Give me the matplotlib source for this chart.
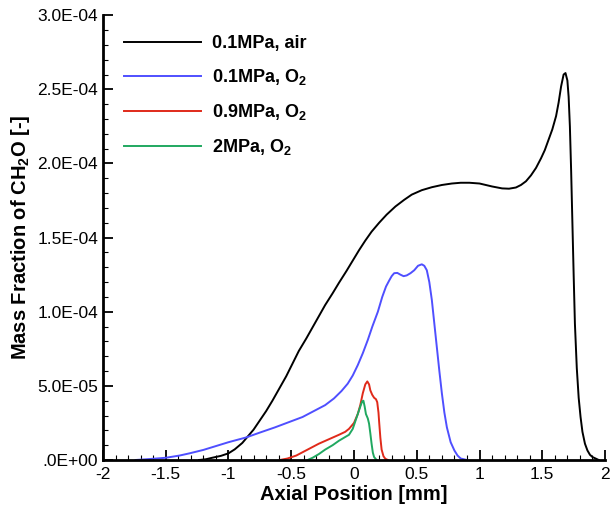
import numpy as np
import matplotlib.pyplot as plt
from matplotlib.ticker import MultipleLocator, FixedLocator

plt.rcParams['font.family'] = ['Liberation Sans', 'DejaVu Sans']
plt.rcParams['mathtext.fontset'] = 'custom'
plt.rcParams['mathtext.rm'] = 'Liberation Sans'
plt.rcParams['mathtext.bf'] = 'Liberation Sans:bold'

# valores (x en mm, y en unidades de 1e-4)
x_air = [-1.235, -1.18, -1.13, -1.06, -1.0, -0.95, -0.89, -0.85, -0.80, -0.76,
         -0.70, -0.65, -0.60, -0.54, -0.49, -0.44, -0.38, -0.33, -0.28, -0.23,
         -0.17, -0.12, -0.06, -0.01, 0.04, 0.09, 0.14, 0.20, 0.26, 0.33, 0.40,
         0.46, 0.54, 0.62, 0.70, 0.78, 0.85, 0.92, 1.00, 1.10, 1.18, 1.235, 1.29,
         1.33, 1.37, 1.41, 1.45, 1.49, 1.52, 1.55, 1.58, 1.61, 1.63, 1.65, 1.67,
         1.685, 1.70, 1.71, 1.72, 1.73, 1.74, 1.75, 1.76, 1.775, 1.79, 1.805,
         1.82, 1.84, 1.86, 1.88, 1.90, 1.95]
y_air = [0.0, 0.005, 0.015, 0.028, 0.045, 0.072, 0.115, 0.155, 0.205, 0.255,
         0.33, 0.40, 0.475, 0.565, 0.65, 0.735, 0.82, 0.895, 0.97, 1.045,
         1.125, 1.195, 1.275, 1.345, 1.415, 1.48, 1.54, 1.60, 1.655, 1.71, 1.755,
         1.79, 1.82, 1.84, 1.855, 1.865, 1.87, 1.87, 1.865, 1.845, 1.832, 1.83, 1.838,
         1.855, 1.88, 1.92, 1.97, 2.035, 2.09, 2.16, 2.23, 2.32, 2.41, 2.52, 2.60,
         2.61, 2.56, 2.45, 2.25, 1.95, 1.60, 1.25, 0.92, 0.62, 0.42, 0.29,
         0.19, 0.11, 0.064, 0.035, 0.02, 0.0]

x_o2_01 = [-1.74, -1.62, -1.50, -1.39, -1.31, -1.20, -1.10, -1.00, -0.86, -0.75,
           -0.63, -0.52, -0.41, -0.32, -0.23, -0.16, -0.10, -0.05, -0.01, 0.03,
           0.07, 0.11, 0.146, 0.19, 0.225, 0.255, 0.28, 0.30, 0.32, 0.345, 0.37,
           0.395, 0.42, 0.45, 0.48, 0.51, 0.54, 0.56, 0.58, 0.60, 0.62, 0.64,
           0.66, 0.68, 0.70, 0.72, 0.74, 0.77, 0.80, 0.825, 0.85, 0.90]
y_o2_01 = [0.0, 0.007, 0.015, 0.03, 0.045, 0.068, 0.094, 0.12, 0.152, 0.185,
           0.22, 0.255, 0.29, 0.33, 0.37, 0.415, 0.465, 0.515, 0.57, 0.64,
           0.72, 0.81, 0.90, 1.00, 1.10, 1.17, 1.21, 1.24, 1.26, 1.262, 1.25,
           1.24, 1.245, 1.26, 1.28, 1.31, 1.32, 1.31, 1.28, 1.20, 1.08, 0.92,
           0.76, 0.60, 0.45, 0.32, 0.22, 0.12, 0.064, 0.03, 0.01, 0.0]

x_o2_09 = [-0.59, -0.53, -0.46, -0.37, -0.28, -0.20, -0.12, -0.07, -0.04, 0.0,
           0.03, 0.05, 0.07, 0.09, 0.106, 0.12, 0.13, 0.145, 0.16, 0.175,
           0.185, 0.195, 0.20, 0.21, 0.22, 0.235, 0.25, 0.27]
y_o2_09 = [0.0, 0.01, 0.03, 0.07, 0.11, 0.14, 0.17, 0.19, 0.21, 0.25,
           0.31, 0.37, 0.45, 0.51, 0.53, 0.51, 0.47, 0.44, 0.42, 0.41,
           0.39, 0.32, 0.26, 0.15, 0.07, 0.025, 0.008, 0.0]

x_o2_2 = [-0.37, -0.33, -0.28, -0.23, -0.17, -0.12, -0.07, -0.04, -0.01, 0.01,
          0.03, 0.05, 0.065, 0.075, 0.085, 0.095, 0.11, 0.12, 0.13, 0.14,
          0.15, 0.16, 0.18]
y_o2_2 = [0.0, 0.015, 0.04, 0.07, 0.10, 0.13, 0.155, 0.17, 0.21, 0.26,
          0.31, 0.36, 0.395, 0.40, 0.36, 0.31, 0.28, 0.245, 0.18, 0.11,
          0.05, 0.02, 0.0]

labels = ['0.1MPa, air', r'0.1MPa, O$_\mathbf{2}$', r'0.9MPa, O$_\mathbf{2}$',
          r'2MPa, O$_\mathbf{2}$']
colors = ['black', '#4f4fff', '#e02a1a', '#20a860']

y_ticks = [0, 0.5e-4, 1.0e-4, 1.5e-4, 2.0e-4, 2.5e-4, 3.0e-4]
y_ticklabels = ['.0E+00', '5.0E-05', '1.0E-04', '1.5E-04', '2.0E-04', '2.5E-04', '3.0E-04']
x_ticks = [-2, -1.5, -1, -0.5, 0, 0.5, 1, 1.5, 2]
x_ticklabels = ['-2', '-1.5', '-1', '-0.5', '0', '0.5', '1', '1.5', '2']

fig = plt.figure(figsize=(6.13, 5.08), dpi=100)
ax = fig.add_axes([0.168, 0.0945, 0.819, 0.8755])

series = [(x_air, y_air), (x_o2_01, y_o2_01), (x_o2_09, y_o2_09), (x_o2_2, y_o2_2)]
for (xs, ys), lab, c in zip(series, labels, colors):
    ax.plot(xs, np.array(ys) * 1e-4, color=c, lw=1.4, label=lab)

ax.set_xlim(-2, 2)
ax.set_ylim(0, 3e-4)
ax.xaxis.set_major_locator(FixedLocator(x_ticks))
ax.set_xticklabels(x_ticklabels)
ax.yaxis.set_major_locator(FixedLocator(y_ticks))
ax.set_yticklabels(y_ticklabels)
ax.xaxis.set_minor_locator(MultipleLocator(0.1))
ax.yaxis.set_minor_locator(MultipleLocator(1e-5))
ax.tick_params(which='both', direction='in', labelsize=12.5, width=1.3)
ax.tick_params(which='major', length=7)
ax.tick_params(which='minor', length=3.5, width=0.8)
ax.tick_params(axis='x', pad=5)

ax.spines['top'].set_visible(False)
ax.spines['right'].set_visible(False)
ax.spines['left'].set_linewidth(2)
ax.spines['bottom'].set_linewidth(2)

ax.set_xlabel('Axial Position [mm]', fontsize=14.5, fontweight='bold', labelpad=2)
ax.set_ylabel(r'Mass Fraction of CH$_\mathbf{2}$O [-]', fontsize=14.5,
              fontweight='bold', labelpad=4)

ax.legend(loc='upper left', bbox_to_anchor=(0.0426, 0.955), frameon=False,
          handlelength=4.26, handletextpad=0.6, labelspacing=0.83,
          borderpad=0, borderaxespad=0,
          prop={'size': 13, 'weight': 'bold'})

fig.savefig('out.png', dpi=100)
